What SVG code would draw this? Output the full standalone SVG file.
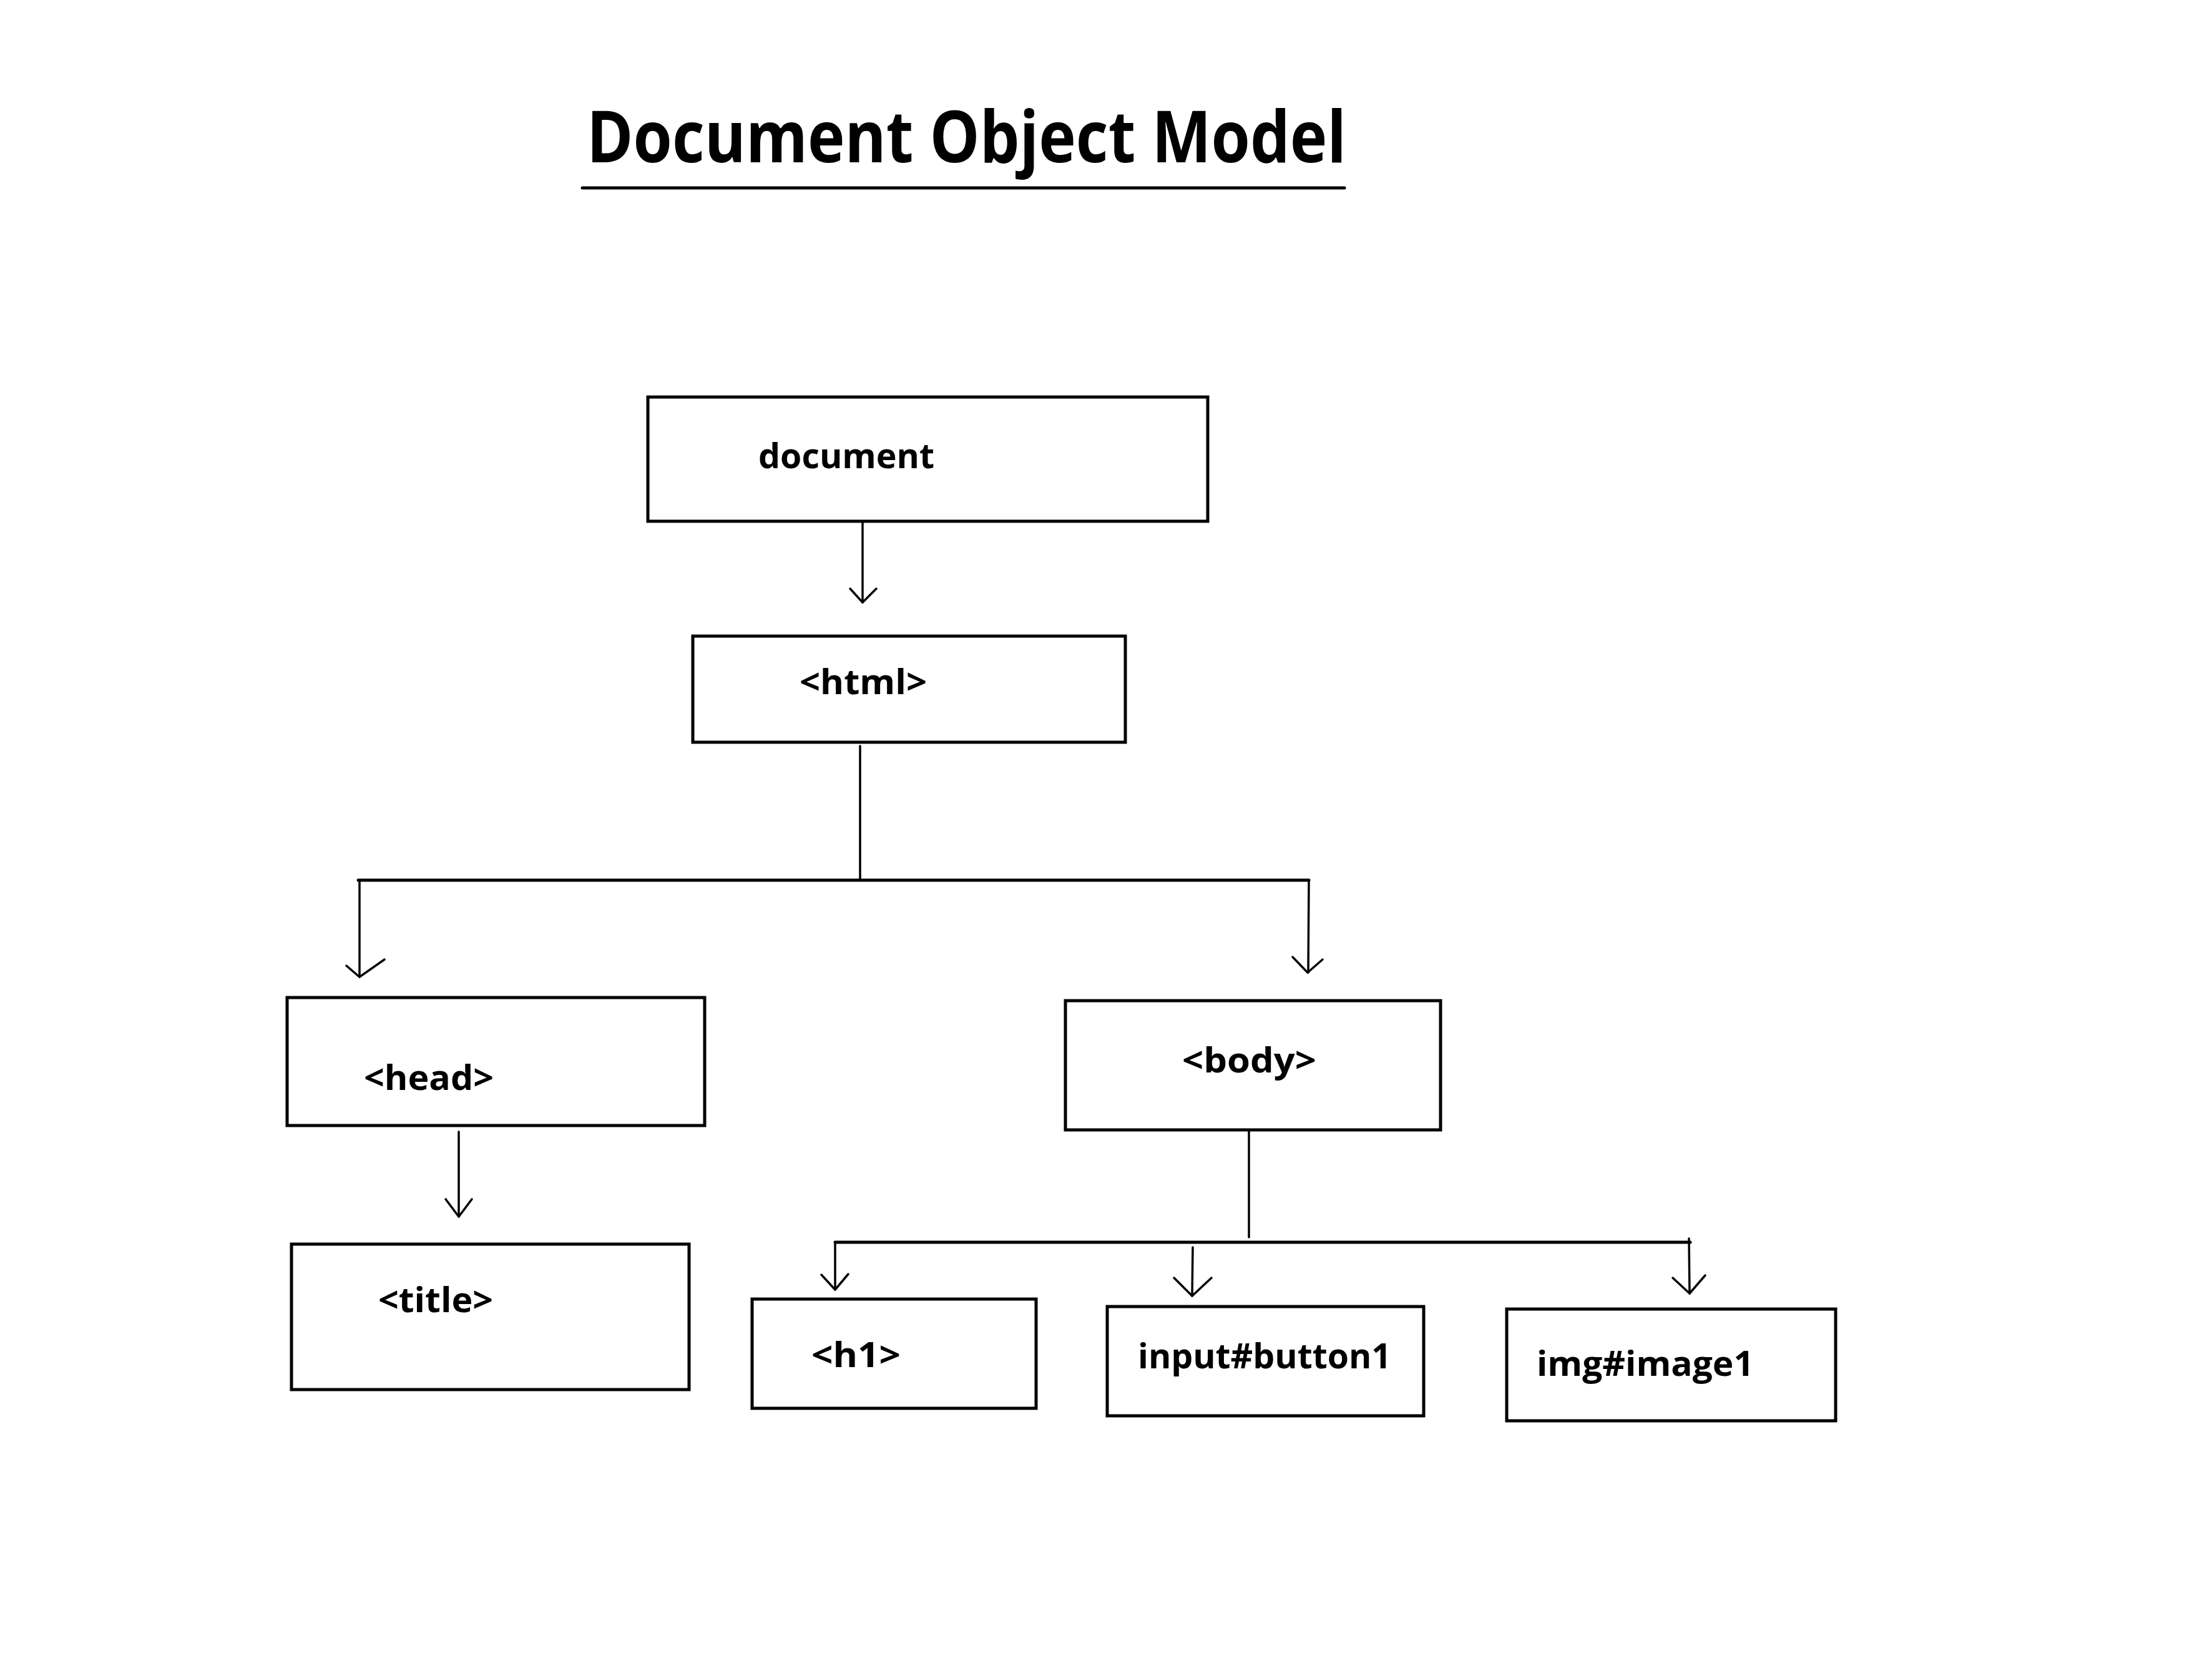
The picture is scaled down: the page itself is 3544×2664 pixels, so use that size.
<svg xmlns="http://www.w3.org/2000/svg" width="3544" height="2664" viewBox="0 0 3544 2664">
<style>
.box{fill:#fff;stroke:#000;stroke-width:5}
.lbl{font-family:"Open Sans","Noto Sans","Liberation Sans",sans-serif;font-weight:700;font-size:56px;fill:#000}
.title{font-family:"Open Sans","Noto Sans","Liberation Sans",sans-serif;font-weight:700;font-size:114px;fill:#000}
.ln{fill:none;stroke:#000;stroke-width:3.5;stroke-linecap:round;stroke-linejoin:round}
.bus{fill:none;stroke:#000;stroke-width:5;stroke-linecap:round}
.head{fill:none;stroke:#000;stroke-width:3.5;stroke-linecap:round;stroke-linejoin:round}
</style>
<rect width="3544" height="2664" fill="#fff"/>
<g id="title">
<text class="title" x="940" y="260" textLength="1217" lengthAdjust="spacingAndGlyphs">Document Object Model</text>
<line x1="933" y1="301" x2="2154" y2="301" stroke="#000" stroke-width="5" stroke-linecap="round"/>
</g>
<g id="connectors">
<line class="ln" x1="1382" y1="836" x2="1382" y2="965"/>
<polyline class="head" points="1362,943 1382,965 1404,943"/>
<line class="ln" x1="1378" y1="1195" x2="1378" y2="1408"/>
<line class="bus" x1="574" y1="1410" x2="2097" y2="1410"/>
<line class="ln" x1="576" y1="1410" x2="576" y2="1565"/>
<polyline class="head" points="555,1547 576,1565 616,1537"/>
<line class="ln" x1="2097" y1="1410" x2="2096" y2="1558"/>
<polyline class="head" points="2071,1533 2095,1558 2119,1537"/>
<line class="ln" x1="735" y1="1813" x2="735" y2="1949"/>
<polyline class="head" points="714,1921 735,1949 756,1921"/>
<line class="ln" x1="2001" y1="1810" x2="2001" y2="1982"/>
<line class="bus" x1="1338" y1="1990" x2="2708" y2="1990"/>
<line class="ln" x1="1338" y1="1990" x2="1338" y2="2066"/>
<polyline class="head" points="1316,2042 1338,2066 1359,2041"/>
<line class="ln" x1="1911" y1="1998" x2="1910" y2="2076"/>
<polyline class="head" points="1881,2047 1910,2076 1941,2047"/>
<line class="ln" x1="2706" y1="1984" x2="2707" y2="2072"/>
<polyline class="head" points="2680,2047 2707,2072 2732,2043"/>
</g>
<g id="node-document">
<rect class="box" x="1038" y="636" width="897" height="199"/>
<text class="lbl" x="1215" y="750" textLength="282" lengthAdjust="spacingAndGlyphs">document</text>
</g>
<g id="node-html">
<rect class="box" x="1110" y="1019" width="693" height="170"/>
<text class="lbl" x="1281" y="1112" textLength="204" lengthAdjust="spacingAndGlyphs">&lt;html&gt;</text>
</g>
<g id="node-head">
<rect class="box" x="460" y="1598" width="669" height="205"/>
<text class="lbl" x="583" y="1746" textLength="208" lengthAdjust="spacingAndGlyphs">&lt;head&gt;</text>
</g>
<g id="node-body">
<rect class="box" x="1707" y="1603" width="601" height="207"/>
<text class="lbl" x="1894" y="1718" textLength="215" lengthAdjust="spacingAndGlyphs">&lt;body&gt;</text>
</g>
<g id="node-title">
<rect class="box" x="467" y="1993" width="637" height="233"/>
<text class="lbl" x="606" y="2102" textLength="184" lengthAdjust="spacingAndGlyphs">&lt;title&gt;</text>
</g>
<g id="node-h1">
<rect class="box" x="1205" y="2081" width="455" height="175"/>
<text class="lbl" x="1300" y="2190" textLength="143" lengthAdjust="spacingAndGlyphs">&lt;h1&gt;</text>
</g>
<g id="node-input">
<rect class="box" x="1774" y="2093" width="507" height="175"/>
<text class="lbl" x="1823" y="2192" textLength="406" lengthAdjust="spacingAndGlyphs">input#button1</text>
</g>
<g id="node-img">
<rect class="box" x="2414" y="2097" width="527" height="179"/>
<text class="lbl" x="2462" y="2204" textLength="348" lengthAdjust="spacingAndGlyphs">img#image1</text>
</g>
</svg>
